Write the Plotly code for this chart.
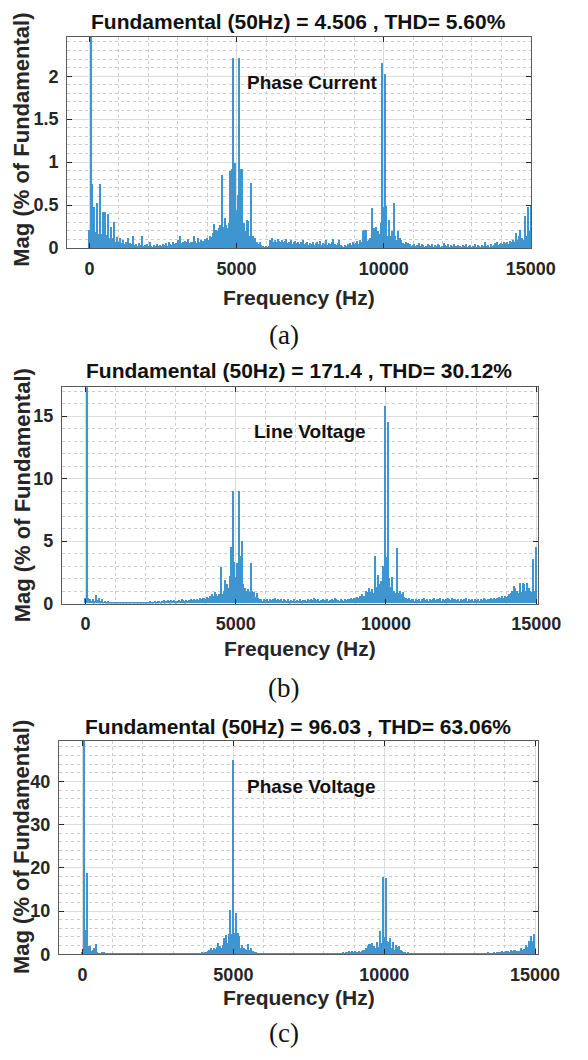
import plotly.graph_objects as go

# Harmonic bins: 0 .. 300 at 50 Hz spacing (0 - 15 kHz)
harmonic_order = list(range(301))
freq_hz = [50 * h for h in harmonic_order]

# Magnitudes in % of fundamental, one value per 50 Hz bin
phase_current_mag = [
    0.21, 100.0, 0.75, 0.48, 0.19, 0.53, 0.17, 0.75, 0.17, 0.43,
    0.19, 0.42, 0.16, 0.40, 0.12, 0.25, 0.12, 0.31, 0.08, 0.13,
    0.08, 0.12, 0.06, 0.10, 0.05, 0.08, 0.12, 0.04, 0.06, 0.05,
    0.14, 0.04, 0.05, 0.03, 0.06, 0.04, 0.14, 0.03, 0.04, 0.05,
    0.03, 0.08, 0.03, 0.02, 0.04, 0.03, 0.05, 0.03, 0.04, 0.03,
    0.05, 0.04, 0.06, 0.03, 0.07, 0.05, 0.04, 0.08, 0.05, 0.06,
    0.10, 0.05, 0.15, 0.06, 0.08, 0.09, 0.07, 0.11, 0.06, 0.08,
    0.07, 0.15, 0.09, 0.06, 0.12, 0.08, 0.10, 0.09, 0.07, 0.11,
    0.12, 0.10, 0.14, 0.13, 0.18, 0.28, 0.22, 0.20, 0.24, 0.27,
    0.86, 0.25, 0.36, 0.27, 0.24, 0.30, 0.90, 0.93, 2.22, 1.00,
    0.45, 0.62, 2.22, 0.93, 0.92, 0.30, 0.20, 0.33, 0.32, 0.15,
    0.76, 0.15, 0.10, 0.12, 0.07, 0.05, 0.08, 0.04, 0.03, 0.02,
    0.03, 0.02, 0.03, 0.10, 0.12, 0.08, 0.10, 0.07, 0.11, 0.09,
    0.08, 0.10, 0.07, 0.09, 0.11, 0.06, 0.08, 0.10, 0.05, 0.07,
    0.09, 0.06, 0.08, 0.05, 0.07, 0.10, 0.05, 0.06, 0.08, 0.04,
    0.06, 0.05, 0.07, 0.04, 0.06, 0.08, 0.05, 0.09, 0.04, 0.06,
    0.05, 0.10, 0.04, 0.06, 0.05, 0.07, 0.11, 0.05, 0.04, 0.06,
    0.10, 0.04, 0.03, 0.02, 0.04, 0.03, 0.05, 0.06, 0.04, 0.08,
    0.05, 0.06, 0.09, 0.05, 0.10, 0.08, 0.20, 0.21, 0.22, 0.09,
    0.10, 0.12, 0.47, 0.24, 0.24, 0.25, 0.20, 0.17, 0.30, 2.16,
    0.48, 2.03, 0.50, 0.15, 0.33, 0.15, 0.20, 0.53, 0.15, 0.10,
    0.20, 0.12, 0.10, 0.06, 0.05, 0.07, 0.04, 0.06, 0.05, 0.03,
    0.04, 0.05, 0.03, 0.04, 0.06, 0.03, 0.05, 0.04, 0.02, 0.03,
    0.05, 0.04, 0.03, 0.05, 0.02, 0.04, 0.03, 0.05, 0.04, 0.02,
    0.03, 0.06, 0.04, 0.03, 0.05, 0.02, 0.04, 0.03, 0.05, 0.03,
    0.02, 0.04, 0.03, 0.02, 0.04, 0.03, 0.05, 0.02, 0.03, 0.04,
    0.02, 0.03, 0.05, 0.02, 0.04, 0.03, 0.02, 0.04, 0.03, 0.07,
    0.03, 0.04, 0.02, 0.05, 0.03, 0.04, 0.06, 0.07, 0.04, 0.05,
    0.06, 0.05, 0.07, 0.06, 0.08, 0.05, 0.09, 0.07, 0.10, 0.08,
    0.18, 0.10, 0.15, 0.22, 0.12, 0.10, 0.38, 0.14, 0.48, 0.20,
    0.50,
]

line_voltage_mag = [
    0.40, 100.0, 0.45, 0.30, 0.20, 0.35, 0.15, 0.69, 0.25, 0.40,
    0.15, 0.30, 0.12, 0.20, 0.10, 0.15, 0.08, 0.12, 0.10, 0.06,
    0.08, 0.05, 0.10, 0.06, 0.08, 0.04, 0.06, 0.05, 0.03, 0.04,
    0.05, 0.04, 0.06, 0.03, 0.05, 0.02, 0.03, 0.02, 0.04, 0.02,
    0.03, 0.05, 0.10, 0.15, 0.08, 0.12, 0.18, 0.10, 0.15, 0.20,
    0.12, 0.18, 0.22, 0.14, 0.20, 0.25, 0.15, 0.22, 0.18, 0.28,
    0.15, 0.20, 0.25, 0.18, 0.30, 0.22, 0.15, 0.28, 0.20, 0.25,
    0.35, 0.22, 0.30, 0.25, 0.35, 0.28, 0.40, 0.30, 0.38, 0.45,
    0.35, 0.50, 0.40, 0.55, 0.70, 0.60, 0.90, 0.70, 0.60, 0.70,
    2.86, 0.70, 1.00, 1.85, 1.50, 1.20, 2.20, 4.50, 9.00, 3.30,
    2.10, 3.20, 9.00, 3.80, 5.00, 1.50, 1.20, 1.00, 1.10, 0.90,
    3.25, 1.00, 0.90, 0.50, 0.80, 0.40, 0.30, 0.35, 0.20, 0.30,
    0.25, 0.30, 0.20, 0.35, 0.25, 0.30, 0.40, 0.22, 0.30, 0.25,
    0.35, 0.20, 0.30, 0.25, 0.20, 0.30, 0.15, 0.25, 0.20, 0.30,
    0.18, 0.25, 0.20, 0.30, 0.15, 0.22, 0.28, 0.20, 0.35, 0.25,
    0.30, 0.22, 0.40, 0.30, 0.25, 0.35, 0.20, 0.28, 0.30, 0.22,
    0.25, 0.30, 0.20, 0.25, 0.35, 0.28, 0.45, 0.30, 0.25, 0.20,
    0.30, 0.25, 0.20, 0.30, 0.25, 0.35, 0.30, 0.40, 0.35, 0.45,
    0.40, 0.50, 0.45, 0.60, 0.70, 0.55, 0.55, 1.00, 0.90, 1.20,
    0.90, 1.10, 0.80, 3.80, 1.30, 2.25, 1.50, 1.80, 3.00, 15.80,
    3.70, 14.50, 2.00, 1.30, 2.06, 1.00, 0.80, 4.40, 0.80, 1.00,
    0.70, 0.90, 0.50, 0.40, 0.30, 0.40, 0.25, 0.35, 0.30, 0.20,
    0.30, 0.25, 0.35, 0.20, 0.30, 0.40, 0.25, 0.30, 0.20, 0.35,
    0.25, 0.30, 0.45, 0.25, 0.35, 0.30, 0.40, 0.20, 0.30, 0.25,
    0.35, 0.40, 0.30, 0.25, 0.45, 0.30, 0.35, 0.25, 0.30, 0.20,
    0.35, 0.25, 0.30, 0.40, 0.20, 0.30, 0.25, 0.35, 0.20, 0.30,
    0.25, 0.30, 0.20, 0.35, 0.25, 0.40, 0.30, 0.25, 0.35, 0.30,
    0.45, 0.35, 0.40, 0.30, 0.45, 0.50, 0.40, 0.55, 0.45, 0.60,
    0.50, 0.60, 0.70, 0.80, 1.00, 1.40, 1.20, 1.00, 0.80, 1.60,
    0.90, 1.60, 1.50, 1.00, 1.60, 1.20, 1.00, 0.90, 3.57, 1.00,
    4.50,
]

phase_voltage_mag = [
    0.50, 100.0, 5.70, 18.80, 1.90, 1.90, 0.80, 1.10, 1.50, 2.45,
    0.50, 0.40, 0.30, 0.50, 0.60, 0.30, 0.40, 0.20, 0.30, 0.25,
    0.35, 0.20, 0.30, 0.25, 0.40, 0.20, 0.30, 0.35, 0.25, 0.30,
    0.20, 0.35, 0.25, 0.30, 0.40, 0.25, 0.30, 0.20, 0.35, 0.25,
    0.30, 0.25, 0.40, 0.20, 0.30, 0.35, 0.25, 0.30, 0.20, 0.30,
    0.25, 0.35, 0.20, 0.30, 0.25, 0.40, 0.30, 0.20, 0.35, 0.25,
    0.30, 0.40, 0.25, 0.30, 0.35, 0.20, 0.30, 0.25, 0.40, 0.30,
    0.25, 0.35, 0.30, 0.20, 0.30, 0.25, 0.40, 0.30, 0.35, 0.50,
    0.40, 0.60, 0.50, 0.80, 1.00, 1.50, 0.90, 1.50, 1.20, 1.80,
    2.70, 2.00, 1.50, 2.20, 3.80, 4.50, 2.50, 4.80, 10.20, 4.80,
    45.00, 5.00, 9.60, 5.00, 4.20, 1.50, 2.20, 1.50, 1.20, 1.00,
    2.40, 1.00, 1.50, 0.80, 0.50, 0.60, 0.40, 0.30, 0.25, 0.35,
    0.20, 0.30, 0.25, 0.35, 0.20, 0.30, 0.25, 0.40, 0.30, 0.20,
    0.35, 0.25, 0.30, 0.20, 0.40, 0.25, 0.30, 0.35, 0.20, 0.30,
    0.25, 0.35, 0.30, 0.20, 0.30, 0.40, 0.25, 0.30, 0.20, 0.35,
    0.30, 0.25, 0.40, 0.20, 0.30, 0.25, 0.35, 0.30, 0.20, 0.40,
    0.25, 0.30, 0.35, 0.20, 0.30, 0.25, 0.40, 0.30, 0.35, 0.25,
    0.30, 0.40, 0.35, 0.50, 0.40, 0.60, 0.50, 0.70, 0.60, 0.80,
    0.60, 0.70, 0.50, 0.80, 0.60, 0.80, 0.90, 1.00, 1.50, 2.00,
    2.30, 2.40, 2.60, 2.00, 1.50, 2.80, 1.80, 5.40, 2.50, 17.90,
    4.00, 17.60, 3.00, 2.80, 3.80, 1.50, 2.90, 1.00, 2.20, 1.80,
    2.00, 1.00, 0.80, 0.60, 0.50, 0.40, 0.60, 0.30, 0.40, 0.25,
    0.30, 0.20, 0.35, 0.25, 0.30, 0.40, 0.20, 0.30, 0.25, 0.35,
    0.20, 0.30, 0.25, 0.40, 0.30, 0.20, 0.35, 0.25, 0.30, 0.20,
    0.40, 0.25, 0.30, 0.35, 0.20, 0.30, 0.25, 0.40, 0.30, 0.20,
    0.35, 0.25, 0.30, 0.20, 0.30, 0.25, 0.35, 0.20, 0.30, 0.40,
    0.25, 0.30, 0.20, 0.35, 0.30, 0.25, 0.40, 0.30, 0.35, 0.45,
    0.30, 0.40, 0.35, 0.50, 0.40, 0.45, 0.60, 0.50, 0.70, 0.60,
    0.50, 0.80, 0.70, 0.60, 0.90, 0.80, 1.00, 0.90, 0.80, 0.70,
    0.80, 1.50, 1.00, 1.20, 2.20, 1.60, 3.00, 4.20, 3.00, 4.60,
    1.50,
]

panel_titles = [
    "Fundamental (50Hz) = 4.506 , THD= 5.60%",
    "Fundamental (50Hz) = 171.4 , THD= 30.12%",
    "Fundamental (50Hz) = 96.03 , THD= 63.06%",
]
signal_names = ["Phase Current", "Line Voltage", "Phase Voltage"]
panel_letters = ["(a)", "(b)", "(c)"]
x_tick_vals = [0, 5000, 10000, 15000]
x_tick_text = ["0", "5000", "10000", "15000"]
y_tick_vals = [[0, 0.5, 1, 1.5, 2], [0, 5, 10, 15], [0, 10, 20, 30, 40]]
y_tick_text = [["0", "0.5", "1", "1.5", "2"], ["0", "5", "10", "15"],
               ["0", "10", "20", "30", "40"]]

W, H = 588, 1060
SANS = "Liberation Sans, Arial, Helvetica, sans-serif"
SERIF = "Liberation Serif, Times New Roman, serif"
BAR_COLOR = "#3f95d0"
INK = "#262626"

# pixel layout of each axes box and its labels
layout_px = [
    dict(left=70, right=554, top=37, bottom=250.5, xr=[-760, 15020], yr=[0, 2.46],
         ymin=0.1, title_y=21.5, name_xy=(326, 83), xlab_y=300, ylab_y=141, letter_y=338),
    dict(left=64.5, right=561, top=391, bottom=609.3, xr=[-782, 15061], yr=[0, 17.3],
         ymin=1, title_y=374.5, name_xy=(323, 436), xlab_y=655, ylab_y=500, letter_y=695),
    dict(left=61.5, right=561, top=748, bottom=963.3, xr=[-779, 15099], yr=[0, 49.4],
         ymin=2, title_y=733, name_xy=(324, 794), xlab_y=1007, ylab_y=855, letter_y=1043),
]
series = [phase_current_mag, line_voltage_mag, phase_voltage_mag]


def px_x(v):
    return v / W


def px_y(v):
    return 1 - v / H


fig = go.Figure()
annotations = []
layout_axes = {}

for i, (p, mag) in enumerate(zip(layout_px, series)):
    n = "" if i == 0 else str(i + 1)
    fig.add_trace(go.Bar(
        x=freq_hz, y=mag, width=40,
        xaxis="x" + n, yaxis="y" + n,
        marker=dict(color=BAR_COLOR, line=dict(width=0)),
        showlegend=False, hoverinfo="x+y",
    ))
    common = dict(
        showline=True, linecolor="#5a5a5a", linewidth=1, mirror="ticks",
        ticks="inside", ticklen=5, tickcolor=INK, tickwidth=1,
        showgrid=True, gridcolor="#dcdcdc", gridwidth=1, zeroline=False,
        tickfont=dict(family=SANS, size=18, color=INK, weight="bold"),
    )
    layout_axes["xaxis" + n] = dict(
        common, domain=[px_x(p["left"]), px_x(p["right"])], range=p["xr"],
        anchor="y" + n, tickvals=x_tick_vals, ticktext=x_tick_text,
        ticklabelstandoff=4,
        minor=dict(dtick=1000, tick0=0, showgrid=True, gridcolor="#cccccc",
                   griddash="dot", gridwidth=1, ticks=""),
    )
    layout_axes["yaxis" + n] = dict(
        common, domain=[px_y(p["bottom"]), px_y(p["top"])], range=p["yr"],
        anchor="x" + n, tickvals=y_tick_vals[i], ticktext=y_tick_text[i],
        ticklabelstandoff=4,
        minor=dict(dtick=p["ymin"], tick0=0, showgrid=True, gridcolor="#cccccc",
                   griddash="dot", gridwidth=1, ticks=""),
    )
    cx = (p["left"] + p["right"]) / 2
    annotations += [
        dict(text=panel_titles[i], x=px_x(cx - 1), y=px_y(p["title_y"]),
             font=dict(family=SANS, size=21, color="#111111", weight="bold")),
        dict(text=signal_names[i], x=px_x(p["name_xy"][0]), y=px_y(p["name_xy"][1]),
             font=dict(family=SANS, size=19, color="#111111", weight="bold")),
        dict(text="Frequency (Hz)", x=px_x(cx), y=px_y(p["xlab_y"]),
             font=dict(family=SANS, size=21, color=INK, weight="bold")),
        dict(text="Mag (% of Fundamental)", x=px_x(23), y=px_y(p["ylab_y"]),
             textangle=-90,
             font=dict(family=SANS, size=22, color=INK, weight="bold")),
        dict(text=panel_letters[i], x=px_x(296), y=px_y(p["letter_y"]),
             font=dict(family=SERIF, size=27, color="#111111")),
    ]

for a in annotations:
    a.update(xref="paper", yref="paper", showarrow=False,
             xanchor="center", yanchor="middle")

fig.update_layout(
    width=W, height=H, margin=dict(l=0, r=0, t=0, b=0),
    paper_bgcolor="white", plot_bgcolor="white",
    bargap=0, annotations=annotations, **layout_axes,
)

fig.write_html("out.html")
